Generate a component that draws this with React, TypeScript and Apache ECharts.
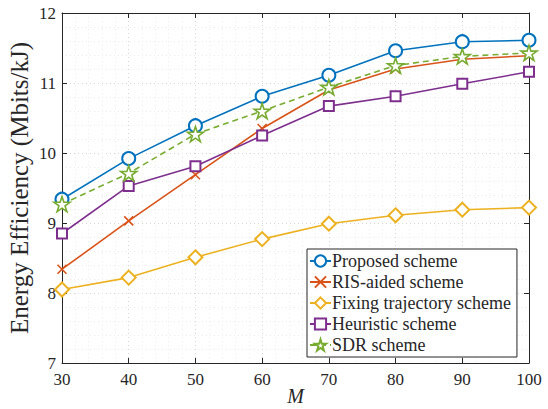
import React, { useEffect, useRef } from "react";
import * as echarts from "echarts";

const mValues = [30, 40, 50, 60, 70, 80, 90, 100];
const proposed = [9.34, 9.92, 10.39, 10.81, 11.11, 11.46, 11.59, 11.61];
const risAided = [8.34, 9.03, 9.69, 10.35, 10.9, 11.2, 11.34, 11.39];
const fixingTraj = [8.05, 8.22, 8.51, 8.77, 8.99, 9.11, 9.19, 9.22];
const heuristic = [8.85, 9.53, 9.81, 10.25, 10.67, 10.81, 10.99, 11.16];
const sdr = [9.27, 9.71, 10.27, 10.6, 10.94, 11.25, 11.38, 11.43];

const seriesNames = [
  "Proposed scheme",
  "RIS-aided scheme",
  "Fixing trajectory scheme",
  "Heuristic scheme",
  "SDR scheme",
];

const FONT = "Liberation Serif, Times New Roman, DejaVu Serif, serif";
const STAR =
  "path://M10,0L12.25,6.91L19.51,6.91L13.63,11.18L15.88,18.09L10,13.82L4.12,18.09L6.37,11.18L0.49,6.91L7.75,6.91Z";
const CROSS = "path://M0,0L10,10M10,0L0,10";

export default function App() {
  const ref = useRef<HTMLDivElement>(null);
  useEffect(() => {
    if (!ref.current) return;
    const chart = echarts.init(ref.current, null, { renderer: "svg" });
    const mk = (
      name: string,
      data: number[],
      color: string,
      symbol: string,
      size: number,
      pathSymbol: boolean,
      dashed = false
    ) => ({
      name,
      type: "line",
      data: mValues.map((m, i) => [m, data[i]]),
      symbol,
      symbolSize: size,
      symbolKeepAspect: true,
      showAllSymbol: true,
      lineStyle: { color, width: 1.6, type: dashed ? [6, 4] : "solid" },
      itemStyle: pathSymbol
        ? { color: "#ffffff", borderColor: color, borderWidth: 1.6 }
        : { color, borderWidth: 1.6 },
      z: 3,
    });
    const axisLine = { show: true, lineStyle: { color: "#262626", width: 1 } };
    const tick = { show: true, inside: true, length: 5, lineStyle: { color: "#262626" } };
    chart.setOption({
      animation: false,
      backgroundColor: "#ffffff",
      textStyle: { fontFamily: FONT },
      grid: {
        left: 62,
        right: 19,
        top: 13,
        bottom: 46,
        show: false,
        containLabel: false,
        outerBoundsMode: "none",
      },
      legend: {
        orient: "vertical",
        left: 307,
        top: 249,
        padding: [3, 6, 3, 2],
        itemWidth: 21,
        itemHeight: 14,
        itemGap: 3,
        backgroundColor: "#ffffff",
        borderColor: "#262626",
        borderWidth: 1,
        textStyle: {
          fontFamily: FONT,
          fontSize: 18,
          color: "#262626",
          padding: [0, 0, 0, -4],
        },
        data: seriesNames,
      },
      xAxis: [
        {
          type: "value",
          min: 30,
          max: 100,
          interval: 10,
          name: "M",
          nameLocation: "middle",
          nameGap: 23,
          nameMoveOverlap: false,
          nameTextStyle: {
            fontFamily: FONT,
            fontStyle: "italic",
            fontSize: 20,
            lineHeight: 20,
            color: "#262626",
          },
          axisLine,
          axisTick: tick,
          axisLabel: { fontFamily: FONT, fontSize: 17, color: "#262626", margin: 8 },
          splitLine: { show: true, lineStyle: { color: "#d6d6d6", type: [1, 3], width: 1 } },
          minorTick: { show: false, splitNumber: 5 },
          minorSplitLine: { show: true, lineStyle: { color: "#ececec", type: [1, 3], width: 1 } },
        },
        {
          type: "value",
          position: "top",
          min: 30,
          max: 100,
          interval: 10,
          axisLine,
          axisTick: tick,
          axisLabel: { show: false },
          splitLine: { show: false },
        },
      ],
      yAxis: [
        {
          type: "value",
          min: 7,
          max: 12,
          interval: 1,
          name: "Energy Efficiency (Mbits/kJ)",
          nameLocation: "middle",
          nameGap: 30,
          nameMoveOverlap: false,
          nameTextStyle: { fontFamily: FONT, fontSize: 25, color: "#262626" },
          axisLine,
          axisTick: tick,
          axisLabel: { fontFamily: FONT, fontSize: 17, color: "#262626", margin: 6 },
          splitLine: { show: true, lineStyle: { color: "#d6d6d6", type: [1, 3], width: 1 } },
          minorTick: { show: false, splitNumber: 5 },
          minorSplitLine: { show: true, lineStyle: { color: "#ececec", type: [1, 3], width: 1 } },
        },
        {
          type: "value",
          position: "right",
          min: 7,
          max: 12,
          interval: 1,
          axisLine,
          axisTick: tick,
          axisLabel: { show: false },
          splitLine: { show: false },
        },
      ],
      series: [
        mk(seriesNames[0], proposed, "#0072BD", "emptyCircle", 13, false),
        mk(seriesNames[1], risAided, "#D95319", CROSS, 9, true),
        mk(seriesNames[2], fixingTraj, "#EDB120", "emptyDiamond", 14, false),
        mk(seriesNames[3], heuristic, "#7E2F8E", "emptyRect", 10, false),
        mk(seriesNames[4], sdr, "#77AC30", STAR, 16, true, true),
      ],
    });
    return () => chart.dispose();
  }, []);
  return <div ref={ref} style={{ width: 548, height: 409, position: "absolute", left: 0, top: 0 }} />;
}
